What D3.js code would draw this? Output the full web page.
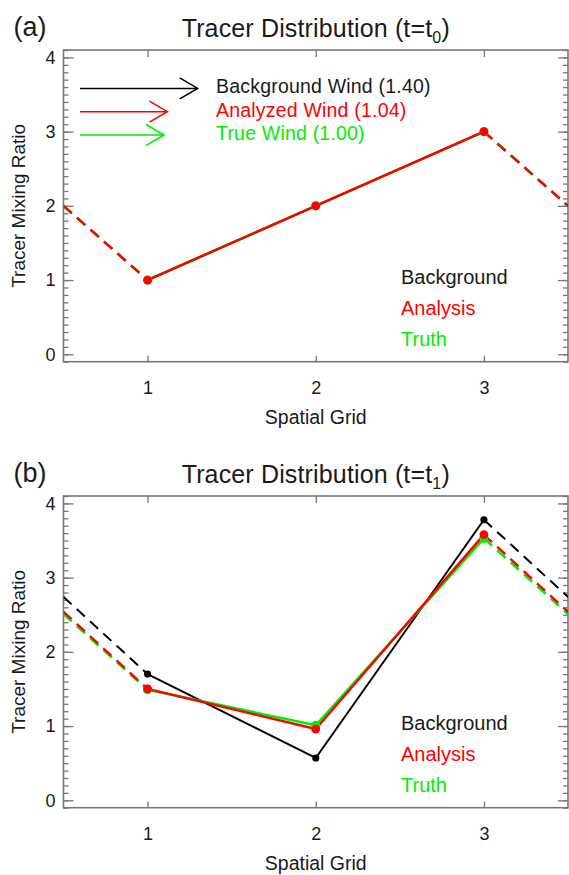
<!DOCTYPE html>
<html>
<head>
<meta charset="utf-8">
<script src="https://cdn.jsdelivr.net/npm/d3@7"></script>
<style>
  html, body { margin: 0; padding: 0; background: #fff; }
  svg { display: block; font-family: "Liberation Sans", Arial, Helvetica, sans-serif; }
</style>
</head>
<body>
<svg id="chart" width="569" height="875"></svg>
<script>
// ---------------- data ----------------
const grid = [1, 2, 3];
const xTickValues = [1, 2, 3];
const yTickValues = [0, 1, 2, 3, 4];
const yMinorValues = d3.range(-1, 42).map(d => d / 10);

const backgroundT0 = [1.00, 2.00, 3.00];
const analysisT0   = [1.00, 2.00, 3.00];
const truthT0      = [1.00, 2.00, 3.00];

const backgroundT1 = [1.70, 0.57, 3.78];
const analysisT1   = [1.50, 0.96, 3.58];
const truthT1      = [1.49, 1.01, 3.53];

const seriesNames  = ["Background", "Analysis", "Truth"];
const seriesColors = ["#000000", "#ff0000", "#00ee00"];

const windNames  = ["Background Wind", "Analyzed Wind", "True Wind"];
const windSpeeds = [1.40, 1.04, 1.00];

const panelLabels = ["(a)", "(b)"];
const timeSubs    = ["0", "1"];

// ---------------- layout ----------------
const svg = d3.select("#chart");
const boxLeft = 63.5, boxRight = 568;
const panelTops = [50, 496];
const boxH = 311.7;

const x = d3.scaleLinear().domain([0.5, 3.5]).range([boxLeft, boxRight]);

function drawPanel(pi, bg, an, tr) {
  const top = panelTops[pi], bottom = top + boxH;
  const y = d3.scaleLinear().domain([-0.1, 4.1]).range([bottom, top]);
  const g = svg.append("g");

  // clip
  const clipId = "clip" + pi;
  svg.append("defs").append("clipPath").attr("id", clipId)
    .append("rect").attr("x", boxLeft).attr("y", top)
    .attr("width", boxRight - boxLeft).attr("height", boxH);

  // axes (inward ticks)
  const axisColor = "#777";
  const styleAxis = sel => {
    sel.select(".domain").remove();
    sel.selectAll("line").attr("stroke", axisColor).attr("stroke-width", 1.3);
    sel.selectAll("text").attr("fill", "#1a1a1a").style("font-size", "18px")
      .style("font-family", '"Liberation Sans", Arial, Helvetica, sans-serif');
  };
  g.append("g").attr("transform", `translate(${boxLeft},0)`)
    .call(d3.axisLeft(y).tickValues(yMinorValues).tickSize(-5).tickFormat(""))
    .call(styleAxis);
  g.append("g").attr("transform", `translate(${boxLeft},0)`)
    .call(d3.axisLeft(y).tickValues(yTickValues).tickSize(-10).tickPadding(8).tickFormat(d3.format("d")))
    .call(styleAxis);
  g.append("g").attr("transform", `translate(${boxRight},0)`)
    .call(d3.axisRight(y).tickValues(yMinorValues).tickSize(-5).tickFormat(""))
    .call(styleAxis);
  g.append("g").attr("transform", `translate(${boxRight},0)`)
    .call(d3.axisRight(y).tickValues(yTickValues).tickSize(-10).tickFormat(""))
    .call(styleAxis);
  g.append("g").attr("transform", `translate(0,${bottom})`)
    .call(d3.axisBottom(x).tickValues(xTickValues).tickSize(-6).tickPadding(20).tickFormat(d3.format("d")))
    .call(styleAxis);
  g.append("g").attr("transform", `translate(0,${top})`)
    .call(d3.axisTop(x).tickValues(xTickValues).tickSize(-7).tickFormat(""))
    .call(styleAxis);

  // box
  g.append("rect").attr("x", boxLeft).attr("y", top)
    .attr("width", boxRight - boxLeft).attr("height", boxH)
    .attr("fill", "none").attr("stroke", axisColor).attr("stroke-width", 1.6);

  // series
  const series = [
    { vals: bg, color: seriesColors[0], w: 2.0, r: 3.6 },
    { vals: tr, color: seriesColors[2], w: 2.6, r: 4.6 },
    { vals: an, color: seriesColors[1], w: 2.4, r: 4.4 }
  ];
  const line = d3.line().x(d => x(d[0])).y(d => y(d[1]));
  const lines = g.append("g").attr("clip-path", `url(#${clipId})`);
  series.forEach(s => {
    const pts = grid.map((gx, i) => [gx, s.vals[i]]);
    // periodic ghost points (grid 0 == grid 3, grid 4 == grid 1)
    const leftSeg  = [[grid[0] - 1, s.vals[s.vals.length - 1]], pts[0]];
    const rightSeg = [pts[pts.length - 1], [grid[grid.length - 1] + 1, s.vals[0]]];
    const segLen = p => Math.hypot(x(p[1][0]) - x(p[0][0]), y(p[1][1]) - y(p[0][1]));
    lines.append("path").attr("d", line(leftSeg))
      .attr("fill", "none").attr("stroke", s.color).attr("stroke-width", s.w)
      .attr("stroke-dasharray", "11,7").attr("stroke-dashoffset", -segLen(leftSeg) / 2);
    lines.append("path").attr("d", line(rightSeg))
      .attr("fill", "none").attr("stroke", s.color).attr("stroke-width", s.w)
      .attr("stroke-dasharray", "11,7");
    lines.append("path").attr("d", line(pts))
      .attr("fill", "none").attr("stroke", s.color).attr("stroke-width", s.w)
      .attr("stroke-linejoin", "round");
  });
  series.forEach(s => {
    g.selectAll(null).data(grid.map((gx, i) => [gx, s.vals[i]])).enter()
      .append("circle").attr("cx", d => x(d[0])).attr("cy", d => y(d[1]))
      .attr("r", s.r).attr("fill", s.color);
  });

  // titles
  const title = g.append("text").attr("x", (boxLeft + boxRight) / 2).attr("y", top - 13.5)
    .attr("text-anchor", "middle").attr("fill", "#1a1a1a").style("font-size", "25px")
    .style("letter-spacing", "0.15px");
  title.append("tspan").text("Tracer Distribution (t=t");
  title.append("tspan").text(timeSubs[pi]).attr("dy", 6.5).style("font-size", "16px");
  title.append("tspan").text(")").attr("dy", -6.5);

  g.append("text").attr("x", 13.5).attr("y", top - 14.5).attr("fill", "#1a1a1a")
    .style("font-size", "27px").text(panelLabels[pi]);

  g.append("text").attr("transform", `translate(24.5,${(top + bottom) / 2}) rotate(-90)`)
    .attr("text-anchor", "middle").attr("fill", "#1a1a1a").style("font-size", "19px")
    .text("Tracer Mixing Ratio");

  g.append("text").attr("x", (boxLeft + boxRight) / 2).attr("y", bottom + 62.3)
    .attr("text-anchor", "middle").attr("fill", "#1a1a1a").style("font-size", "19.5px")
    .text("Spatial Grid");

  // series legend
  g.selectAll(null).data(seriesNames).enter().append("text")
    .attr("x", 401).attr("y", (d, i) => top + 234 + i * 31)
    .attr("fill", (d, i) => seriesColors[i] === "#000000" ? "#1a1a1a" : seriesColors[i])
    .style("font-size", "20px").text(d => d);

  // wind legend (panel a only)
  if (pi === 0) {
    const windLen = d3.scaleLinear().domain([0, 1]).range([0, x(1.5) - x(1)]);
    const x0 = boxLeft + 16.5;
    const headL = 18, headW = 10.5;
    windNames.forEach((name, i) => {
      const base = top + 43.4 + i * 23.3;
      const ay = base - 5;
      const xe = x0 + windLen(windSpeeds[i]);
      const c = seriesColors[i];
      g.append("path")
        .attr("d", `M${x0},${ay}H${xe}M${xe - headL},${ay - headW}L${xe},${ay}L${xe - headL},${ay + headW}`)
        .attr("fill", "none").attr("stroke", c).attr("stroke-width", 1.5);
      g.append("text").attr("x", 216).attr("y", base)
        .attr("fill", c === "#000000" ? "#1a1a1a" : c)
        .style("font-size", "19.5px").style("letter-spacing", "0.2px")
        .text(`${name} (${windSpeeds[i].toFixed(2)})`);
    });
  }
}

drawPanel(0, backgroundT0, analysisT0, truthT0);
drawPanel(1, backgroundT1, analysisT1, truthT1);
</script>
</body>
</html>
